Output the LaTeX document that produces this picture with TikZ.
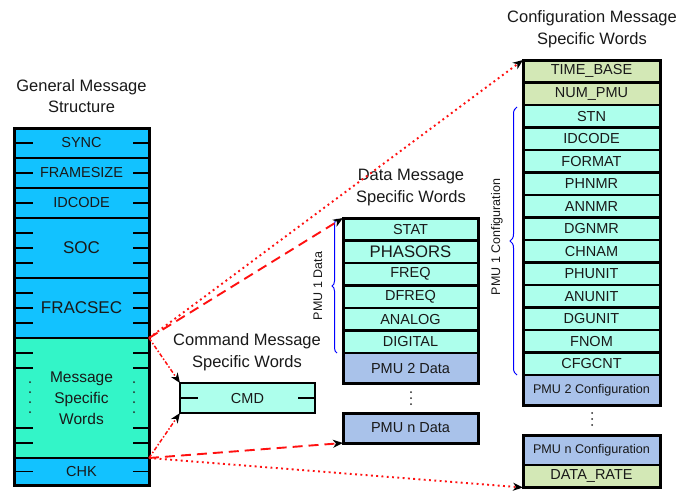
\documentclass[tikz,border=0pt]{standalone}
\usepackage{fontspec}
\setmainfont{Liberation Sans}
\usetikzlibrary{arrows.meta,decorations.pathreplacing}
\definecolor{gblue}{HTML}{12C2FF}
\definecolor{ggreen}{HTML}{33F5C8}
\definecolor{aqua}{HTML}{ADFFEC}
\definecolor{pmublue}{HTML}{A9C2EA}
\definecolor{cgreen}{HTML}{D3E8B6}
\definecolor{arrred}{HTML}{FF1010}
\newcommand\fsz[2]{\fontsize{#1}{#2}\selectfont}
\tikzset{
  box/.style={draw=black, line width=2.2pt, inner sep=0pt, outer sep=0pt, text=black!90, font=\fsz{14.5}{17}},
  genrow/.style={box, fill=gblue, minimum width=135pt},
  datrow/.style={box, fill=aqua, minimum width=135pt, minimum height=22.5pt},
  cfgrow/.style={box, fill=aqua, minimum width=137pt, minimum height=22.5pt},
  titletext/.style={align=center, font=\fsz{16.5}{21.5}, text=black!90},
  tickline/.style={line width=1.5pt},
  outline/.style={draw=black, line width=3pt},
  tipk/.style={-{Stealth[length=10pt,width=8pt,inset=3pt,black]}},
  cfgarr/.style={tipk, draw=arrred, line width=1.9pt, dash pattern=on 1.9pt off 3.4pt},
  datarr/.style={tipk, draw=arrred, line width=1.9pt, dash pattern=on 10pt off 6pt},
  cmdarr/.style={tipk, draw=arrred, line width=1.5pt, dash pattern=on 4pt off 2pt on 1.5pt off 2pt},
  bracestyle/.style={draw=blue, line width=1pt, decorate},
  sidelabel/.style={rotate=90, font=\fsz{12.5}{15}, text=black!90},
  vdot/.style={fill=black!85, draw=none}
}
\begin{document}
\begin{tikzpicture}[x=1pt,y=-1pt]
\useasboundingbox (0,0) rectangle (692,490);

% ---------- titles ----------
\node[titletext] (tg) at (81.5,96) {General Message\\Structure};
\node[titletext] (tc) at (247,352) {Command Message\\Specific Words};
\node[titletext] (td) at (411,187.5) {Data Message\\Specific Words};
\node[titletext] (tcf) at (592,29) {Configuration Message\\Specific Words};

% ---------- general message structure ----------
\node[genrow, minimum height=30pt] (sync) at (81.5,143) {SYNC};
\node[genrow, minimum height=30pt] (fsize) at (81.5,173) {FRAMESIZE};
\node[genrow, minimum height=30pt] (gid) at (81.5,203) {IDCODE};
\node[genrow, minimum height=60pt, font=\fsz{17}{20}] (soc) at (81.5,248) {SOC};
\node[genrow, minimum height=60pt, font=\fsz{17}{20}] (frac) at (81.5,308) {FRACSEC};
\node[genrow, fill=ggreen, minimum height=120pt, align=center, font=\fsz{15.5}{21}] (msw) at (81.5,398) {Message\\Specific\\Words};
\node[genrow, minimum height=27pt] (chk) at (81.5,471.5) {CHK};
\draw[outline] (sync.north west) rectangle (chk.south east);

\foreach \n in {sync,fsize,gid,chk}{
  \draw[tickline] (\n.west) -- ++(19,0);
  \draw[tickline] (\n.east) -- ++(-16,0);
}
\foreach \n in {soc,frac}{
  \foreach \k in {1,2,3}{
    \draw[tickline] ([yshift={-15pt*\k}]\n.north west) -- ++(19,0);
    \draw[tickline] ([yshift={-15pt*\k}]\n.north east) -- ++(-16,0);
  }
}
\foreach \k in {15,30,90,105}{
  \draw[tickline] ([yshift={-1pt*\k}]msw.north west) -- ++(19,0);
  \draw[tickline] ([yshift={-1pt*\k}]msw.north east) -- ++(-16,0);
}
\foreach \yy in {382,392,402,412}{
  \fill[vdot] (30,\yy) circle (1pt);
  \fill[vdot] (134,\yy) circle (1pt);
}

% ---------- command ----------
\node[box, fill=aqua, minimum width=135pt, minimum height=30pt] (cmd) at (247.5,398) {CMD};
\draw[tickline] (cmd.west) -- ++(18,0);
\draw[tickline] (cmd.east) -- ++(-17,0);

% ---------- data ----------
\foreach \t/\yy/\nm in {STAT/229.25/stat, FREQ/274.25/freq, DFREQ/296.75/dfreq, ANALOG/319.25/analog, DIGITAL/341.75/digital}{
  \node[datrow] (\nm) at (410.5,\yy) {\t};
}
\node[datrow, font=\fsz{16.7}{19}] (phasors) at (410.5,251.75) {PHASORS};
\node[datrow, fill=pmublue, minimum height=30pt] (pmutwo) at (410.5,368) {PMU 2 Data};
\node[datrow, fill=pmublue, minimum height=30pt] (pmun) at (410.5,428) {PMU n Data};
\draw[outline] (stat.north west) rectangle (pmutwo.south east);
\draw[outline] (pmun.north west) rectangle (pmun.south east);
\foreach \yy in {392,398,404}{ \fill[vdot] (411,\yy) circle (1pt); }

\coordinate (dbb) at (337,353);
\coordinate (dbt) at (337,219);
\draw[bracestyle, decoration={brace, amplitude=5pt}] (dbb) -- (dbt);
\node[sidelabel] (pmuonedata) at (318,286) {PMU 1 Data};

% ---------- configuration ----------
\node[cfgrow, fill=cgreen] (tb) at (591.5,71.25) {TIME\_BASE};
\node[cfgrow, fill=cgreen] (npmu) at (591.5,93.75) {NUM\_PMU};
\foreach \t/\yy/\nm in {STN/116.25/stn, IDCODE/138.75/cid, FORMAT/161.25/fmt, PHNMR/183.75/phnmr, ANNMR/206.25/annmr, DGNMR/228.75/dgnmr, CHNAM/251.25/chnam, PHUNIT/273.75/phunit, ANUNIT/296.25/anunit, DGUNIT/318.75/dgunit, FNOM/341.25/fnom, CFGCNT/363.75/cfgcnt}{
  \node[cfgrow] (\nm) at (591.5,\yy) {\t};
}
\node[cfgrow, fill=pmublue, minimum height=30pt, font=\fsz{12.6}{15}] (ctwo) at (591.5,390) {PMU 2 Configuration};
\node[cfgrow, fill=pmublue, minimum height=30pt, font=\fsz{12.6}{15}] (cn) at (591.5,450) {PMU n Configuration};
\node[cfgrow, fill=cgreen] (dr) at (591.5,476.25) {DATA\_RATE};
\draw[outline] (tb.north west) rectangle (ctwo.south east);
\draw[outline] (cn.north west) rectangle (dr.south east);
\foreach \yy in {413,419,425}{ \fill[vdot] (592,\yy) circle (1pt); }

\coordinate (cbb) at (517,375);
\coordinate (cbt) at (517,107);
\draw[bracestyle, decoration={brace, amplitude=7pt}] (cbb) -- (cbt);
\node[sidelabel] (pmuonecfg) at (497,237) {PMU 1 Configuration};

% ---------- connectors ----------
\draw[cfgarr] (msw.north east) -- (tb.north west);
\draw[cfgarr] (msw.south east) -- (dr.south west);
\draw[datarr] (msw.north east) -- (stat.north west);
\draw[datarr] (msw.south east) -- (pmun.south west);
\draw[cmdarr] (msw.north east) -- (cmd.north west);
\draw[cmdarr] (msw.south east) -- (cmd.south west);
\end{tikzpicture}
\end{document}
